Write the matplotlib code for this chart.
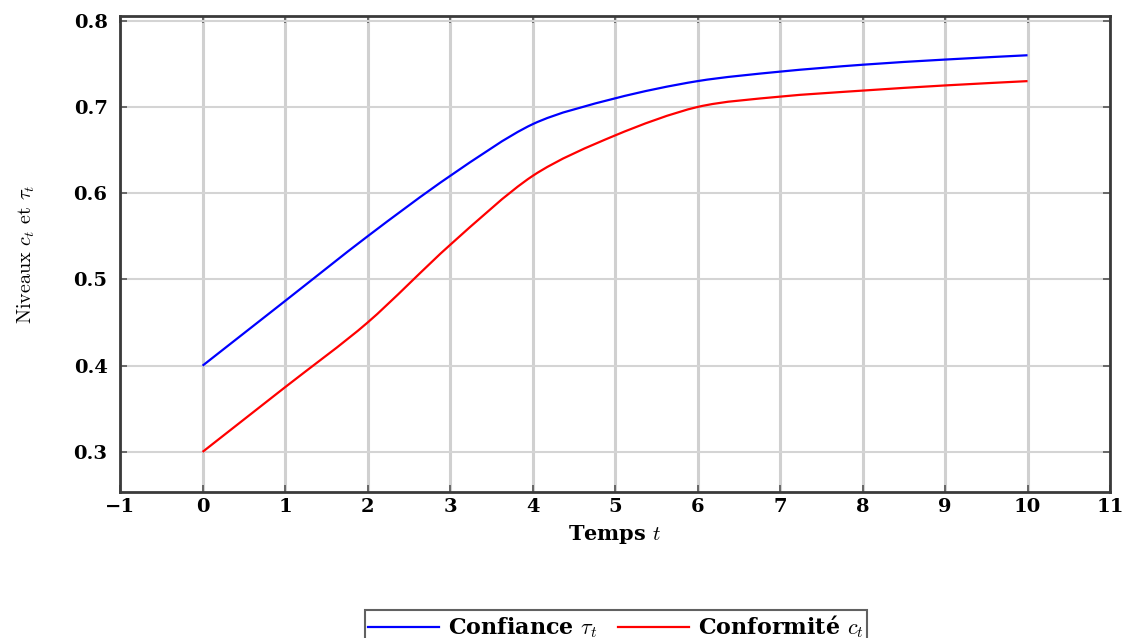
import matplotlib.pyplot as plt
from matplotlib.path import Path
from matplotlib.patches import PathPatch
from matplotlib.lines import Line2D
import numpy as np

plt.rcParams['mathtext.fontset'] = 'cm'
plt.rcParams['font.family'] = ['DejaVu Serif']

# niveaux relevés à chaque pas de temps
temps = [0, 1, 2, 3, 4, 5, 6, 7, 8, 9, 10]
confiance = [0.40, 0.475, 0.55, 0.62, 0.68, 0.71, 0.73, 0.741, 0.749, 0.755, 0.76]
conformite = [0.30, 0.375, 0.45, 0.54, 0.62, 0.667, 0.70, 0.712, 0.719, 0.725, 0.73]

x_ticks = [-1, 0, 1, 2, 3, 4, 5, 6, 7, 8, 9, 10, 11]
y_ticks = [0.3, 0.4, 0.5, 0.6, 0.7, 0.8]


def courbe_lisse(xs, ys, tension=0.55):
    # Bezier par morceaux passant par chaque point, façon "smooth" de pgfplots
    p = np.column_stack([xs, ys]).astype(float)
    n = len(p)
    k = 0.2775 * tension
    verts = [p[0]]
    codes = [Path.MOVETO]
    for i in range(n - 1):
        a = p[i - 1] if i > 0 else p[i]
        b = p[i + 2] if i + 2 < n else p[i + 1]
        c1 = p[i] + k * (p[i + 1] - a)
        c2 = p[i + 1] - k * (b - p[i])
        verts += [c1, c2, p[i + 1]]
        codes += [Path.CURVE4] * 3
    return Path(verts, codes)


fig = plt.figure(figsize=(11.25, 6.38), dpi=100)
ax = fig.add_axes([0.1067, 0.2288, 0.88, 0.7461])

ax.add_patch(PathPatch(courbe_lisse(temps, confiance), facecolor='none',
                       edgecolor='#0000ff', lw=1.6, zorder=3))
ax.add_patch(PathPatch(courbe_lisse(temps, conformite), facecolor='none',
                       edgecolor='#ff0000', lw=1.6, zorder=3))

ax.set_xlim(-1, 11)
ax.set_ylim(0.2535, 0.8055)
ax.set_xticks(x_ticks)
ax.set_xticklabels(['\u22121' if v == -1 else str(v) for v in x_ticks])
ax.set_yticks(y_ticks)
ax.set_yticklabels(['%.1f' % v for v in y_ticks])
ax.tick_params(direction='in', length=5, width=1.2, color='#555555',
               labelsize=14, top=True, right=True)
ax.tick_params(axis='x', pad=4)
ax.tick_params(axis='y', pad=9)
for lab in ax.get_xticklabels() + ax.get_yticklabels():
    lab.set_fontweight('bold')

ax.xaxis.grid(True, color='#d0d0d0', lw=2.2)
ax.yaxis.grid(True, color='#d4d4d4', lw=1.5)
ax.set_axisbelow(True)
for s in ax.spines.values():
    s.set_color('#3a3a3a')
    s.set_linewidth(2)

ax.set_xlabel(r'Temps $t$', fontsize=15, fontweight='bold', labelpad=5)
ax.set_ylabel(r'Niveaux $c_t$ et $\tau_t$', fontsize=14.5, family='cmr10')
ax.yaxis.set_label_coords(-0.084, 0.5)

poignees = [Line2D([], [], color='#0000ff', lw=1.6),
            Line2D([], [], color='#ff0000', lw=1.6)]
leg = fig.legend(poignees, [r'Confiance $\tau_t$', r'Conformité $c_t$'],
                 loc='upper center', bbox_to_anchor=(616 / 1125, 1 - 610 / 638),
                 ncol=2, frameon=True, fancybox=False,
                 prop={'size': 16, 'weight': 'bold'},
                 edgecolor='#3a3a3a', handlelength=3.2, columnspacing=0.9,
                 handletextpad=0.4, borderpad=0.15, borderaxespad=0)
leg.get_frame().set_linewidth(1.5)

fig.savefig('out.png', dpi=100)
